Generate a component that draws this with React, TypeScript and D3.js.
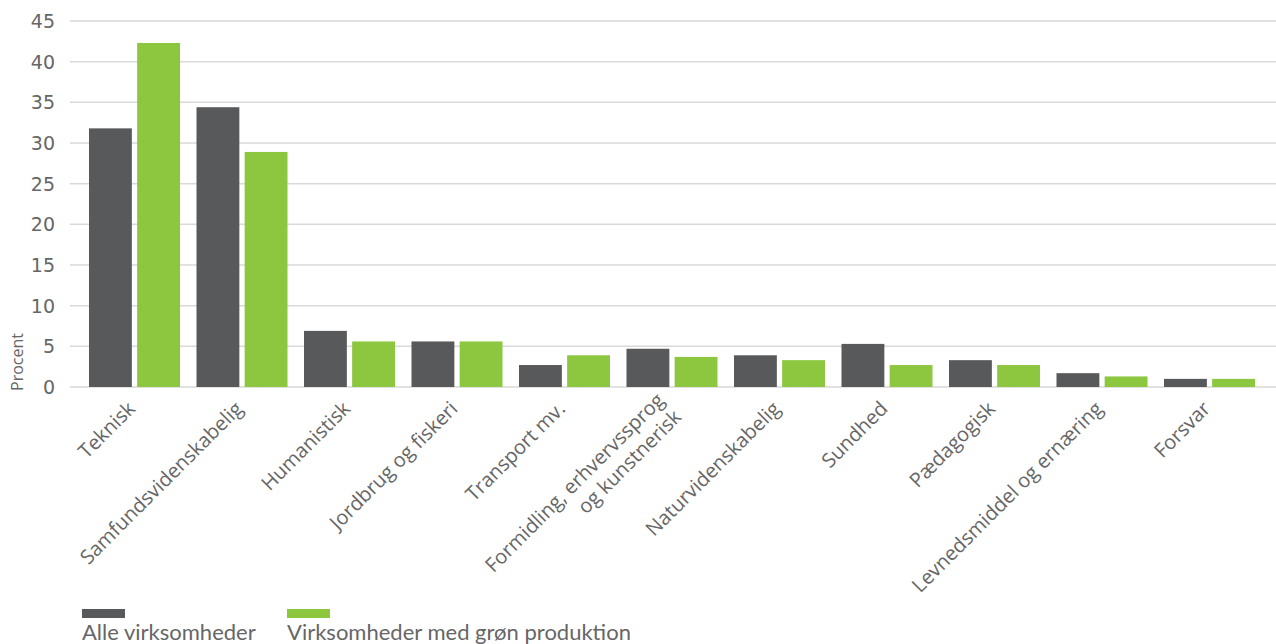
import React from "react";
import * as d3 from "d3";

const categories: string[][] = [
  ["Teknisk"],
  ["Samfundsvidenskabelig"],
  ["Humanistisk"],
  ["Jordbrug og fiskeri"],
  ["Transport mv."],
  ["Formidling, erhvervssprog", "og kunstnerisk"],
  ["Naturvidenskabelig"],
  ["Sundhed"],
  ["Pædagogisk"],
  ["Levnedsmiddel og ernæring"],
  ["Forsvar"],
];
const allValues = [31.8, 34.4, 6.9, 5.6, 2.7, 4.7, 3.9, 5.3, 3.3, 1.7, 1.0];
const greenValues = [42.3, 28.9, 5.6, 5.6, 3.9, 3.7, 3.3, 2.7, 2.7, 1.3, 1.0];
const seriesNames = ["Alle virksomheder", "Virksomheder med grøn produktion"];
const seriesColors = ["#58595b", "#8dc63f"];
const yTicks = [0, 5, 10, 15, 20, 25, 30, 35, 40, 45];

export default function App() {
  const W = 1276, H = 644;
  const keys = categories.map((c) => c.join(" "));
  const x0 = d3.scaleBand<string>().domain(keys).range([80.75, 1263.25]).padding(0);
  const x1 = d3.scaleBand<number>().domain([0, 1]).range([8.25, 99.25]).paddingInner(0.11);
  const y = d3.scaleLinear().domain([0, 45]).range([387, 21]);
  const series = [allValues, greenValues];
  return (
    <svg width={W} height={H} style={{ position: "absolute", left: 0, top: 0 }}>
      {yTicks.map((t) => (
        <g key={t}>
          <line x1={70} x2={1276} y1={y(t)} y2={y(t)} stroke="#d9d9d9" strokeWidth={1.5} />
          <text x={55} y={y(t)} dy="0.36em" textAnchor="end" fontFamily="DejaVu Sans" fontSize={19} fill="#666666">
            {t}
          </text>
        </g>
      ))}
      <text transform={`translate(23,${362}) rotate(-90)`} textAnchor="middle" fontFamily="Open Sans" fontSize={16} fill="#666666">
        Procent
      </text>
      {keys.map((k, i) => (
        <g key={k} transform={`translate(${x0(k)},0)`}>
          {series.map((s, j) => (
            <rect key={j} x={x1(j)} width={x1.bandwidth()} y={y(s[i])} height={y(0) - y(s[i])} fill={seriesColors[j]} />
          ))}
        </g>
      ))}
      {categories.map((lines, i) => {
        const cx = (x0(keys[i]) as number) + x0.bandwidth() / 2;
        const n = lines.length;
        return (
          <g key={i} transform={`translate(${cx - 3},${405}) rotate(-45)`}>
            {lines.map((l, li) => (
              <text key={li} x={0} y={(li - (n - 1) / 2) * 24} dy="0.35em" textAnchor="end" fontFamily="Open Sans" fontSize={20} fill="#666666">
                {l}
              </text>
            ))}
          </g>
        );
      })}
      {seriesNames.map((n, j) => {
        const lx = j === 0 ? 82 : 287;
        return (
          <g key={n}>
            <rect x={lx} y={609} width={43} height={9} fill={seriesColors[j]} />
            <text x={lx} y={640} fontFamily="Lato" fontSize={22} fill="#666666">
              {n}
            </text>
          </g>
        );
      })}
    </svg>
  );
}
